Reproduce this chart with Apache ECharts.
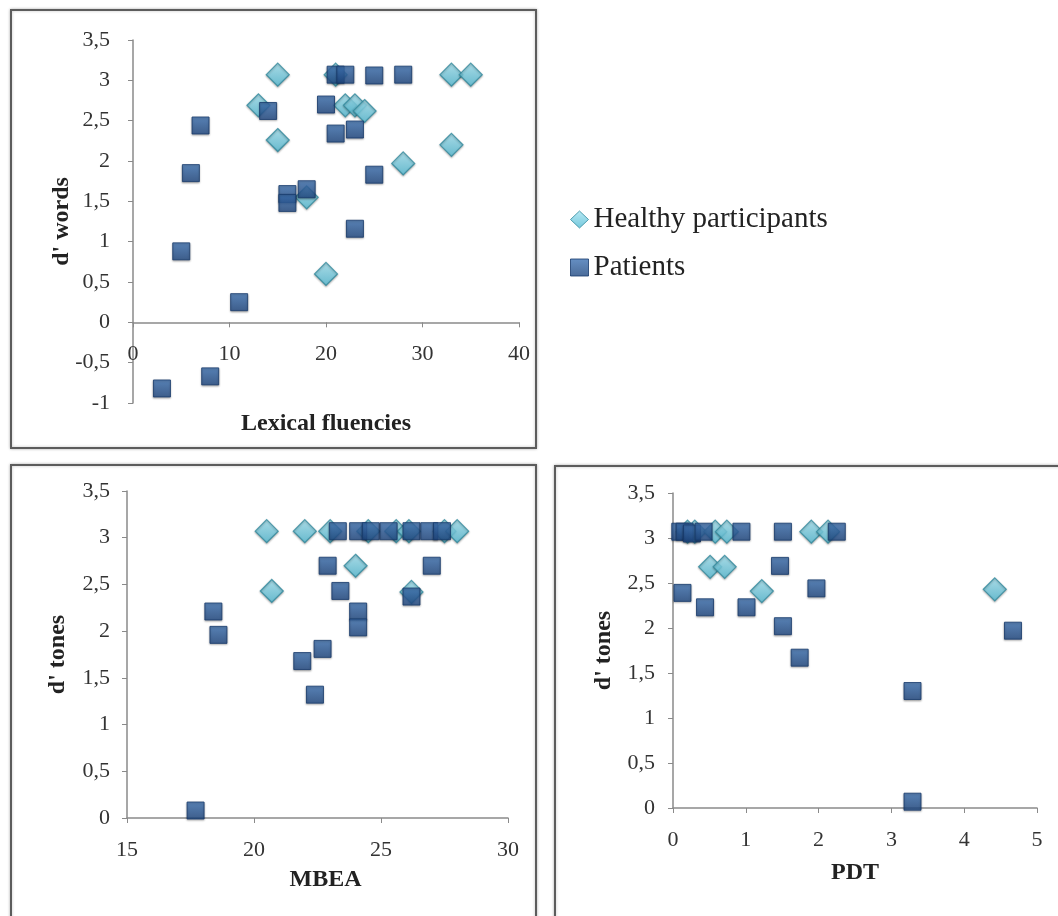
<!DOCTYPE html>
<html>
<head>
<meta charset="utf-8">
<script src="https://cdn.jsdelivr.net/npm/echarts@6/dist/echarts.min.js"></script>
<style>
  html, body { margin: 0; padding: 0; background: #fff; }
  #main { width: 1058px; height: 916px; }
</style>
</head>
<body>
<div id="main"></div>
<script>
// lexical fluencies vs d' words
var lexHealthy = [[15,3.07],[13,2.69],[15,2.26],[21,3.07],[22,2.69],[23,2.69],[24,2.62],[18,1.55],[20,0.6],[28,1.97],[33,2.2],[33,3.07],[35,3.07]];
var lexPatients = [[3,-0.82],[8,-0.67],[5,0.88],[11,0.25],[6,1.85],[7,2.44],[14,2.62],[16,1.59],[16,1.48],[18,1.65],[20,2.7],[21,2.34],[21,3.07],[22,3.07],[23,2.39],[23,1.16],[25,3.06],[25,1.83],[28,3.07]];

// MBEA vs d' tones
var mbeaHealthy = [[20.5,3.07],[22,3.07],[23,3.07],[24.5,3.07],[25.6,3.07],[26.1,3.07],[27.5,3.07],[28,3.07],[20.7,2.43],[24,2.7],[26.2,2.42]];
var mbeaPatients = [[17.7,0.08],[18.4,2.21],[18.6,1.96],[21.9,1.68],[22.4,1.32],[22.7,1.81],[22.9,2.7],[23.4,2.43],[24.1,2.21],[24.1,2.04],[26.2,2.37],[27,2.7],[23.3,3.07],[24.1,3.07],[24.6,3.07],[25.3,3.07],[26.2,3.07],[26.9,3.07],[27.4,3.07]];

// PDT vs d' tones
var pdtHealthy = [[0.2,3.07],[0.3,3.07],[0.58,3.07],[0.74,3.07],[1.9,3.07],[2.13,3.07],[0.51,2.68],[0.71,2.68],[1.22,2.41],[4.42,2.43]];
var pdtPatients = [[0.1,3.07],[0.16,3.07],[0.26,3.05],[0.42,3.07],[0.94,3.07],[1.51,3.07],[2.25,3.07],[0.13,2.39],[0.44,2.23],[1.01,2.23],[1.47,2.69],[1.51,2.02],[1.74,1.67],[1.97,2.44],[3.29,1.3],[3.29,0.07],[4.67,1.97]];

var serif = 'Liberation Serif';

function comma(v){
    return String(v).replace('.', ',');
}

// offset lets the top-left x axis sit on y = 0 with its labels and name
function makeX(idx, min, max, interval, name, gap, offset, shift){
    return {
        type: 'value', gridIndex: idx, min: min, max: max, interval: interval,
        position: 'bottom', offset: offset || 0,
        name: name, nameLocation: 'middle', nameGap: gap,
        nameTextStyle: { fontFamily: serif, fontWeight: 'bold', fontSize: 24, color: '#222',
                         padding: [0, 0, 0, shift || 0] },
        axisLine: { onZero: false, lineStyle: { color: '#8a8a8a', width: 1.5 } },
        axisTick: { show: true, length: 5, lineStyle: { color: '#8a8a8a' } },
        axisLabel: { margin: 21, fontFamily: serif, fontSize: 22, color: '#333', formatter: comma },
        splitLine: { show: false }
    };
}

function makeY(idx, min, max, name, margin, gap){
    return {
        type: 'value', gridIndex: idx, min: min, max: max, interval: 0.5,
        name: name, nameLocation: 'middle', nameGap: gap, nameRotate: 90, nameMoveOverlap: false,
        nameTextStyle: { fontFamily: serif, fontWeight: 'bold', fontSize: 24, color: '#222' },
        axisLine: { show: true, onZero: false, lineStyle: { color: '#8a8a8a', width: 1.5 } },
        axisTick: { show: true, length: 5, lineStyle: { color: '#8a8a8a' } },
        axisLabel: { margin: margin, fontFamily: serif, fontSize: 22, color: '#333', formatter: comma },
        splitLine: { show: false }
    };
}

var diamondStyle = {
    color: new echarts.graphic.LinearGradient(0, 0, 0, 1, [
        { offset: 0, color: '#a6e4f2' },
        { offset: 1, color: '#52bad3' }
    ]),
    borderColor: '#2f8a9e', borderWidth: 1.2,
    shadowBlur: 2, shadowColor: 'rgba(0,0,0,0.35)', shadowOffsetY: 1
};
var squareStyle = {
    color: new echarts.graphic.LinearGradient(0, 0, 0, 1, [
        { offset: 0, color: '#3f74b5' },
        { offset: 1, color: '#1e467f' }
    ]),
    borderColor: '#173a6b', borderWidth: 1,
    shadowBlur: 2, shadowColor: 'rgba(0,0,0,0.35)', shadowOffsetY: 1
};

function healthy(idx, data){
    return { name: 'Healthy participants', type: 'scatter', xAxisIndex: idx, yAxisIndex: idx,
             symbol: 'diamond', symbolSize: 23, itemStyle: diamondStyle, data: data };
}
function patients(idx, data){
    return { name: 'Patients', type: 'scatter', xAxisIndex: idx, yAxisIndex: idx,
             symbol: 'rect', symbolSize: 17, itemStyle: squareStyle, data: data };
}

function frame(x, y, w, h){
    return { type: 'rect', shape: { x: x, y: y, width: w, height: h }, z: -1,
             style: { fill: '#fff', stroke: '#5c5c5c', lineWidth: 2,
                      shadowBlur: 3, shadowColor: 'rgba(0,0,0,0.25)' } };
}

var myChart = echarts.init(document.getElementById('main'), null, { renderer: 'canvas' });
var option = {
    animation: false,
    backgroundColor: '#fff',
    graphic: [
        frame(11, 10, 525, 438),
        frame(11, 465, 525, 470),
        frame(555, 466, 520, 470)
    ],
    legend: {
        orient: 'vertical', left: 565, top: 200, itemGap: 19,
        itemWidth: 18, itemHeight: 17, itemStyle: { borderWidth: 1 },
        textStyle: { fontFamily: serif, fontSize: 29, color: '#222' },
        data: [{ name: 'Healthy participants', icon: 'diamond' }, { name: 'Patients', icon: 'rect' }]
    },
    grid: [
        { left: 133, top: 40, width: 386, height: 363 },
        { left: 127, top: 491, width: 381, height: 327 },
        { left: 673, top: 493, width: 364, height: 315 }
    ],
    xAxis: [
        makeX(0, 0, 40, 10, 'Lexical fluencies', 89, -363 / 4.5),
        makeX(1, 15, 30, 5, 'MBEA', 50, 0, 16),
        makeX(2, 0, 5, 1, 'PDT', 53)
    ],
    yAxis: [
        makeY(0, -1, 3.5, "d' words", 23, 59),
        makeY(1, 0, 3.5, "d' tones", 17, 57),
        makeY(2, 0, 3.5, "d' tones", 18, 57)
    ],
    series: [
        healthy(0, lexHealthy), patients(0, lexPatients),
        healthy(1, mbeaHealthy), patients(1, mbeaPatients),
        healthy(2, pdtHealthy), patients(2, pdtPatients)
    ]
};
myChart.setOption(option);
</script>
</body>
</html>
